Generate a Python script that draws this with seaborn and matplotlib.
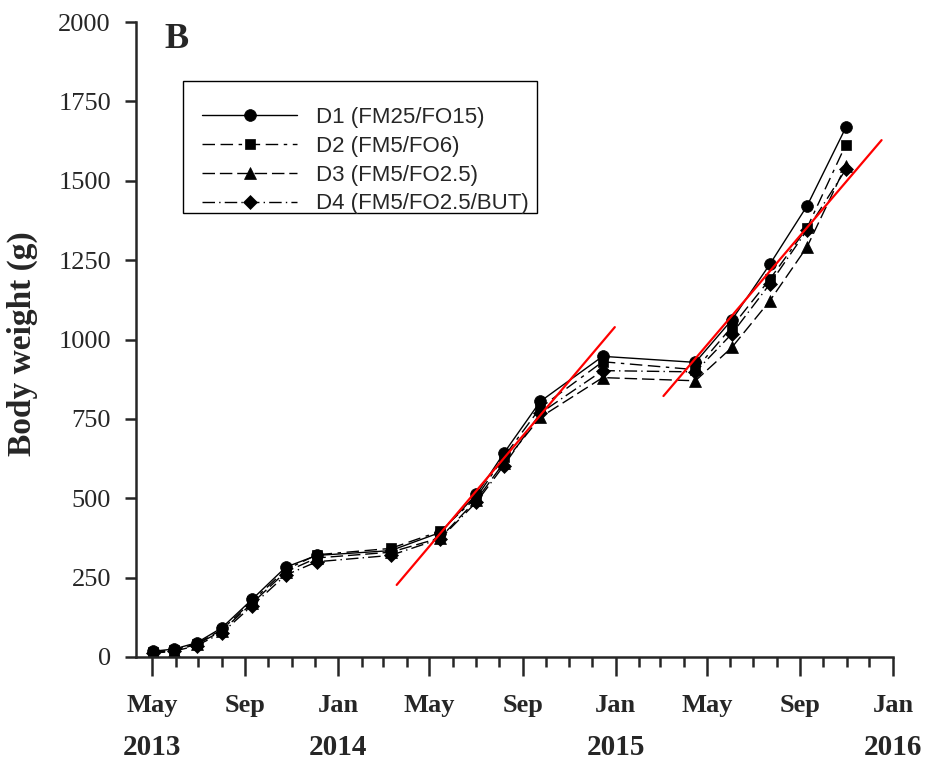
import matplotlib
matplotlib.use("Agg")
import matplotlib.pyplot as plt
import matplotlib.dates as mdates
from matplotlib.patches import Rectangle
import pandas as pd
import seaborn as sns

# sampling dates and body weights (g) per diet
sample_dates = pd.to_datetime([
    "2013-05-02", "2013-05-30", "2013-06-29", "2013-08-01", "2013-09-10",
    "2013-10-24", "2013-12-04", "2014-03-11", "2014-05-15", "2014-07-02",
    "2014-08-07", "2014-09-24", "2014-12-15", "2015-04-16", "2015-06-03",
    "2015-07-23", "2015-09-10", "2015-10-31",
])
d1 = [18, 25, 45, 92, 182, 283, 320, 335, 392, 512, 642, 805, 947, 928, 1062, 1237, 1421, 1668]
d2 = [16, 22, 42, 86, 176, 275, 322, 342, 396, 503, 630, 785, 930, 905, 1040, 1190, 1352, 1614]
d3 = [14, 20, 40, 82, 170, 268, 312, 330, 375, 495, 612, 755, 880, 870, 975, 1122, 1292, 1548]
d4 = [12, 18, 36, 76, 162, 258, 300, 320, 372, 488, 603, 768, 902, 898, 1018, 1175, 1345, 1536]

series_names = ["D1 (FM25/FO15)", "D2 (FM5/FO6)", "D3 (FM5/FO2.5)", "D4 (FM5/FO2.5/BUT)"]
series_values = [d1, d2, d3, d4]
series_markers = ["o", "s", "^", "D"]
series_sizes = [8.5, 7.5, 8.5, 7]
series_dashes = ["-", (0, (9, 4, 9, 4, 2.5, 4)), (0, (9, 3.5)), (0, (9, 3, 1, 3))]

# red growth trend lines (end points)
fit1_dates = pd.to_datetime(["2014-03-19", "2014-12-31"])
fit1_vals = [227, 1039]
fit2_dates = pd.to_datetime(["2015-03-05", "2015-12-17"])
fit2_vals = [822, 1628]

month_ticks = pd.date_range("2013-05-01", "2016-01-01", freq="4MS")
month_labels = ["May", "Sep", "Jan", "May", "Sep", "Jan", "May", "Sep", "Jan"]
year_ticks = pd.to_datetime(["2013-05-01", "2014-01-01", "2015-01-01", "2016-01-01"])
year_labels = ["2013", "2014", "2015", "2016"]

sns.set_style("ticks")
plt.rcParams["font.family"] = ["Liberation Serif", "DejaVu Serif"]

fig = plt.figure(figsize=(9.27, 7.62), dpi=100)
ax = fig.add_axes([0.1467, 0.1378, 0.8166, 0.8333])

for name, vals, mk, ms, ls in zip(series_names, series_values, series_markers, series_sizes, series_dashes):
    sns.lineplot(
        x=sample_dates, y=vals, ax=ax, color="black", linewidth=1.0,
        linestyle=ls, marker=mk, markersize=ms,
        markeredgecolor="black", markerfacecolor="black", markeredgewidth=0.5,
        label=name, legend=False,
    )

sns.lineplot(x=fit1_dates, y=fit1_vals, ax=ax, color="red", linewidth=1.6, legend=False)
sns.lineplot(x=fit2_dates, y=fit2_vals, ax=ax, color="red", linewidth=1.6, legend=False)

ax.set_xlim(pd.Timestamp("2013-04-10"), pd.Timestamp("2016-01-01"))
ax.set_ylim(0, 2000)
ax.set_yticks(range(0, 2001, 250))
ax.tick_params(axis="y", labelsize=19, length=8, width=1.8, pad=10)

ax.set_xticks(month_ticks)
ax.set_xticklabels(month_labels, fontsize=19, fontweight="bold")
ax.xaxis.set_minor_locator(mdates.MonthLocator())
ax.tick_params(axis="x", which="major", length=14, width=1.8, pad=13)
ax.tick_params(axis="x", which="minor", length=7, width=1.8)

for d, lab in zip(year_ticks, year_labels):
    ax.text(d, -0.143, lab, transform=ax.get_xaxis_transform(), ha="center", va="center",
            fontsize=21, fontweight="bold")

sns.despine(ax=ax)
for side in ["left", "bottom"]:
    ax.spines[side].set_linewidth(1.8)

ax.set_xlabel("")
ax.set_ylabel("Body weight (g)", fontsize=24, fontweight="bold")
ax.yaxis.set_label_coords(-0.13, 0.494)

ax.text(0.038, 0.999, "B", transform=ax.transAxes, ha="left", va="top",
        fontsize=26, fontweight="bold")

# legend with its own box (more room above the entries than below)
ax.add_patch(Rectangle((0.062, 0.70), 0.468, 0.207, transform=ax.transAxes,
                       fill=False, edgecolor="black", linewidth=1.0))
ax.legend(loc="upper left", bbox_to_anchor=(0.087, 0.866), frameon=False,
          borderpad=0, borderaxespad=0, handlelength=4.3, handletextpad=0.85,
          labelspacing=0.35, prop={"family": "Liberation Sans", "size": 16})

fig.savefig("out.png", dpi=100)
